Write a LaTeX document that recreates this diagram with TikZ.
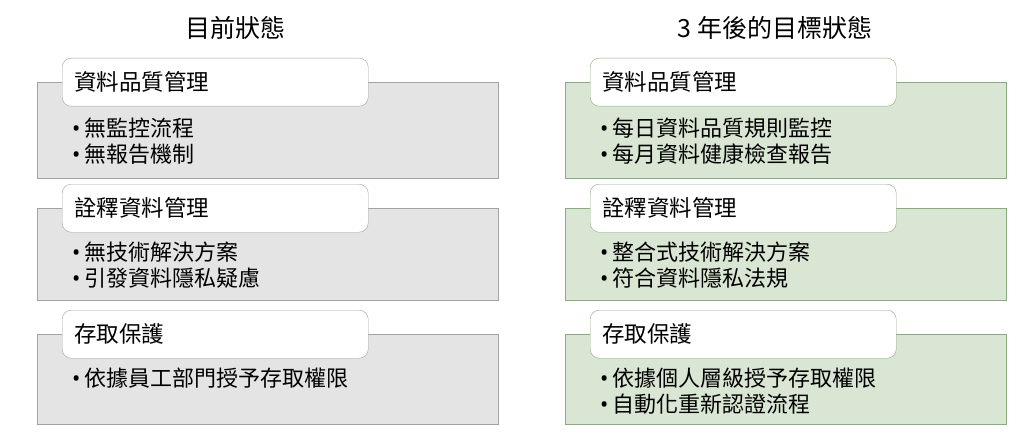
\documentclass[tikz,border=0pt]{standalone}
\usepackage{fontspec}
\setmainfont{Noto Sans CJK TC}
\newfontfamily\latinfont{Noto Sans}
\usepackage{tikz}
\usetikzlibrary{positioning}
\definecolor{nowFill}{HTML}{E4E4E4}
\definecolor{nowDraw}{HTML}{A3A3A3}
\definecolor{goalFill}{HTML}{DAE6D4}
\definecolor{goalDraw}{HTML}{8BAA80}
\newcommand\bul{{\latinfont•}\,}

\begin{document}
\begin{tikzpicture}[
  x=1pt,
  y=-1pt,
  every node/.style={
    inner sep=0pt,
  },
  title/.style={
    font=\fontsize{25}{30}\selectfont,
  },
  header/.style={
    draw=#1,
    fill=white,
    rounded corners=9pt,
    minimum width=306pt,
    minimum height=48pt,
    anchor=north west,
    text width=282pt,
    font=\fontsize{22.5}{27}\selectfont,
  },
  body/.style={
    draw=#1,
    thick,
  },
  item/.style={
    anchor=west,
    font=\fontsize{22}{26}\selectfont,
  },
]
\useasboundingbox (0,0) rectangle (1024,441);
\node[title] (nowTitle) at (235,28) {目前狀態};
\node[title] (goalTitle) at (775,28) {3 年後的目標狀態};
% left column
\draw[body=nowDraw,fill=nowFill] (37,82) rectangle (498,178);
\draw[body=nowDraw,fill=nowFill] (37,208) rectangle (498,300);
\draw[body=nowDraw,fill=nowFill] (37,334) rectangle (498,424);
\node[header=nowDraw] (nowA) at (62,58) {資料品質管理};
\node[header=nowDraw] (nowB) at (62,184) {詮釋資料管理};
\node[header=nowDraw] (nowC) at (62,310) {存取保護};
\node[item] (nowA1) at (72,128) {\bul 無監控流程};
\node[item] (nowA2) at (72,154) {\bul 無報告機制};
\node[item] (nowB1) at (72,252) {\bul 無技術解決方案};
\node[item] (nowB2) at (72,278) {\bul 引發資料隱私疑慮};
\node[item] (nowC1) at (72,378) {\bul 依據員工部門授予存取權限};
% right column
\draw[body=goalDraw,fill=goalFill] (565,82) rectangle (1006,178);
\draw[body=goalDraw,fill=goalFill] (565,208) rectangle (1006,300);
\draw[body=goalDraw,fill=goalFill] (565,334) rectangle (1006,424);
\node[header=goalDraw] (goalA) at (590,58) {資料品質管理};
\node[header=goalDraw] (goalB) at (590,184) {詮釋資料管理};
\node[header=goalDraw] (goalC) at (590,310) {存取保護};
\node[item] (goalA1) at (600,128) {\bul 每日資料品質規則監控};
\node[item] (goalA2) at (600,154) {\bul 每月資料健康檢查報告};
\node[item] (goalB1) at (600,252) {\bul 整合式技術解決方案};
\node[item] (goalB2) at (600,278) {\bul 符合資料隱私法規};
\node[item] (goalC1) at (600,378) {\bul 依據個人層級授予存取權限};
\node[item] (goalC2) at (600,404) {\bul 自動化重新認證流程};
\end{tikzpicture}
\end{document}
